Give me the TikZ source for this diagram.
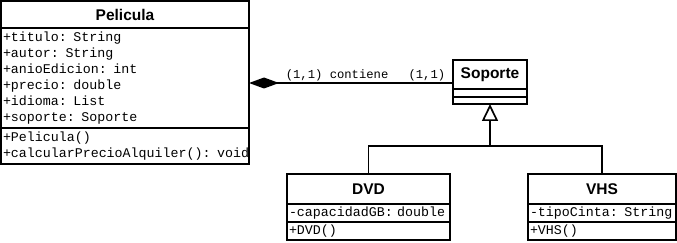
\documentclass[tikz,border=0pt]{standalone}
\usepackage{fontspec}
\setmainfont{Liberation Sans}
\setmonofont{Liberation Mono}
\usetikzlibrary{positioning, arrows.meta}

\begin{document}
\begin{tikzpicture}[x=1pt, y=-1pt, line width=1.7pt,
    title/.style={rectangle, draw, outer sep=0pt, inner sep=0pt, font=\fontsize{15.5}{18}\selectfont\bfseries},
    part/.style={rectangle, draw, outer sep=0pt, inner xsep=2pt, inner ysep=0pt, align=left, font=\fontsize{13.3}{16}\selectfont\ttfamily},
    lbl/.style={inner sep=1pt, font=\fontsize{12.2}{15}\selectfont\ttfamily}]
    \useasboundingbox (0,0) rectangle (677,243);

    % Pelicula
    \node[title, anchor=north west, minimum width=248pt, minimum height=27pt] (pelicula) at (1,1) {Pelicula};
    \node[part, below=0pt of pelicula, text width=244pt, minimum height=100pt] (pelattr) {+titulo: String\\+autor: String\\+anioEdicion: int\\+precio: double\\+idioma: List\\+soporte: Soporte};
    \node[part, below=0pt of pelattr, text width=244pt, minimum height=36pt] (pelmet) {+Pelicula()\\\mbox{+calcularPrecioAlquiler(): void}};

    % Soporte
    \node[title, anchor=north west, minimum width=74pt, minimum height=29pt] (soporte) at (453,60) {Soporte};
    \node[part, below=0pt of soporte, minimum width=74pt, minimum height=8pt] (sopattr) {};
    \node[part, below=0pt of sopattr, minimum width=74pt, minimum height=7pt] (sopmet) {};

    % DVD
    \node[title, anchor=north west, minimum width=163pt, minimum height=30pt] (dvd) at (287,174) {DVD};
    \node[part, below=0pt of dvd, text width=159pt, minimum height=18pt] (dvdattr) {-capacidadGB: double};
    \node[part, below=0pt of dvdattr, text width=159pt, minimum height=18pt] (dvdmet) {+DVD()};

    % VHS
    \node[title, anchor=north west, minimum width=148pt, minimum height=30pt] (vhs) at (528,174) {VHS};
    \node[part, below=0pt of vhs, text width=144pt, minimum height=18pt] (vhsattr) {-tipoCinta: String};
    \node[part, below=0pt of vhsattr, text width=144pt, minimum height=18pt] (vhsmet) {+VHS()};

    % composicion
    \coordinate (cont) at ([yshift=-8.5pt]soporte.west);
    \draw[{Diamond[length=30pt,width=11pt]}-] (cont -| pelattr.east) -- (cont)
        node[lbl, pos=0, anchor=south west, xshift=35pt] {(1,1) contiene}
        node[lbl, pos=1, anchor=south east, xshift=-6pt] {(1,1)};

    % herencia
    \draw[{Triangle[open,length=17pt,width=16pt]}-] (sopmet.south) -- ++(0,42) coordinate (split) -| (dvd.north);
    \draw (split) -| (vhs.north);
\end{tikzpicture}
\end{document}
